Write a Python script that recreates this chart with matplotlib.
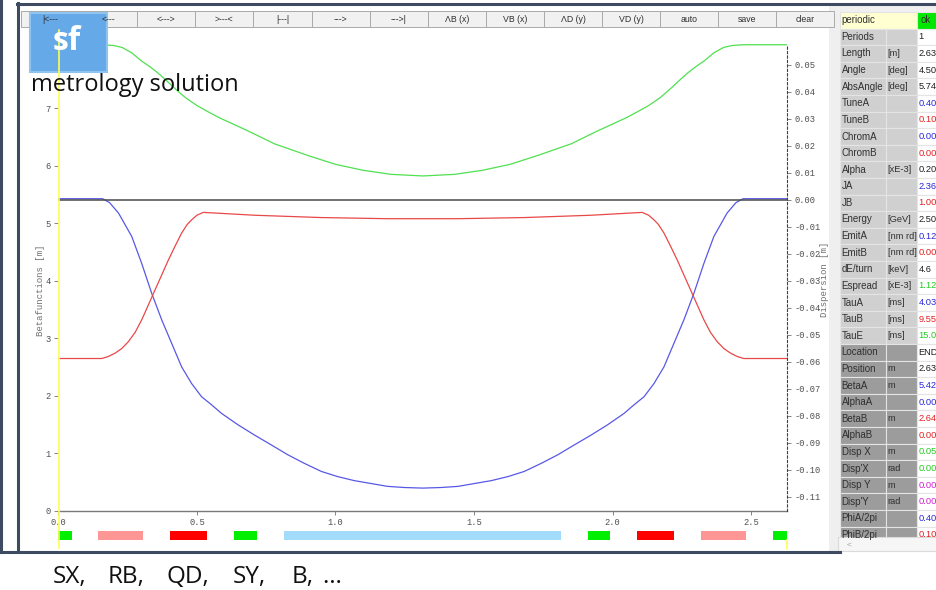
import matplotlib
matplotlib.use('Agg')
import matplotlib.pyplot as plt
from matplotlib.patches import Rectangle
from matplotlib import font_manager

W, H = 936, 590

# lattice functions along the cell, s in metres
s_beta_a = [0.000, 0.160, 0.185, 0.217, 0.265, 0.301, 0.337, 0.373, 0.409, 0.445,
            0.481, 0.517, 0.553, 0.589, 0.649, 0.709, 0.769, 0.828, 0.888, 0.949,
            1.008, 1.068, 1.128, 1.188, 1.250, 1.315, 1.380, 1.442, 1.502, 1.562,
            1.622, 1.681, 1.742, 1.802, 1.861, 1.921, 1.981, 2.041, 2.077, 2.113,
            2.149, 2.185, 2.221, 2.257, 2.293, 2.329, 2.365, 2.413, 2.445, 2.470, 2.630]
beta_a = [5.428, 5.428, 5.36, 5.18, 4.77, 4.30, 3.78, 3.32, 2.91, 2.50,
          2.21, 1.98, 1.84, 1.69, 1.49, 1.31, 1.14, 0.97, 0.82, 0.68,
          0.59, 0.52, 0.47, 0.42, 0.40, 0.39, 0.40, 0.42, 0.47, 0.52,
          0.59, 0.68, 0.82, 0.97, 1.14, 1.31, 1.49, 1.69, 1.84, 1.98,
          2.21, 2.50, 2.91, 3.32, 3.78, 4.30, 4.77, 5.18, 5.36, 5.428, 5.428]

s_beta_b = [0.000, 0.157, 0.180, 0.205, 0.229, 0.253, 0.277, 0.301, 0.325, 0.349,
            0.373, 0.397, 0.421, 0.445, 0.465, 0.481, 0.500, 0.523, 0.709, 0.949,
            1.188, 1.315, 1.442, 1.681, 1.921, 2.107, 2.130, 2.149, 2.165, 2.185,
            2.209, 2.233, 2.257, 2.281, 2.305, 2.329, 2.353, 2.377, 2.401, 2.425,
            2.450, 2.473, 2.630]
beta_b = [2.646, 2.646, 2.68, 2.74, 2.82, 2.94, 3.10, 3.32, 3.58, 3.84,
          4.10, 4.36, 4.60, 4.83, 4.98, 5.06, 5.14, 5.19, 5.14, 5.10,
          5.08, 5.08, 5.08, 5.10, 5.14, 5.19, 5.14, 5.06, 4.98, 4.83,
          4.60, 4.36, 4.10, 3.84, 3.58, 3.32, 3.10, 2.94, 2.82, 2.74,
          2.68, 2.646, 2.646]

s_disp = [0.000, 0.160, 0.200, 0.230, 0.265, 0.300, 0.330, 0.360, 0.385, 0.410,
          0.435, 0.460, 0.500, 0.540, 0.580, 0.680, 0.780, 0.900, 1.000, 1.100,
          1.200, 1.315, 1.430, 1.530, 1.630, 1.730, 1.850, 1.950, 2.050, 2.090,
          2.130, 2.170, 2.195, 2.220, 2.245, 2.270, 2.300, 2.330, 2.365, 2.400,
          2.430, 2.470, 2.630]
disp_x = [0.0575, 0.0575, 0.0572, 0.0565, 0.0545, 0.0515, 0.0494, 0.0470, 0.0447, 0.0423,
          0.0400, 0.0378, 0.0350, 0.0327, 0.0305, 0.0258, 0.0208, 0.0165, 0.0132, 0.0110,
          0.0095, 0.0089, 0.0095, 0.0110, 0.0132, 0.0165, 0.0208, 0.0258, 0.0305, 0.0327,
          0.0350, 0.0378, 0.0400, 0.0423, 0.0447, 0.0470, 0.0494, 0.0515, 0.0545, 0.0565,
          0.0572, 0.0575, 0.0575]

# magnets along the cell
elem_names = ['SX', 'RB', 'QD', 'SY', 'B', 'SY', 'QD', 'RB', 'SX']
elem_start = [0.000, 0.145, 0.404, 0.633, 0.813, 1.910, 2.088, 2.318, 2.578]
elem_end = [0.048, 0.307, 0.536, 0.716, 1.812, 1.990, 2.220, 2.480, 2.630]
elem_colors = {'SX': '#00ee00', 'SY': '#00ee00', 'RB': '#ff9696',
               'QD': '#ff0000', 'B': '#a2dcfa'}

s_ticks = [0.0, 0.5, 1.0, 1.5, 2.0, 2.5]
beta_ticks = [0, 1, 2, 3, 4, 5, 6, 7]
disp_ticks = [0.05, 0.04, 0.03, 0.02, 0.01, 0.00, -0.01, -0.02, -0.03, -0.04,
              -0.05, -0.06, -0.07, -0.08, -0.09, -0.10, -0.11]

buttons = ['|<---', '<---', '<--->', '>---<', '|---|', '--->', '--->|',
           'ΛB (x)', 'VB (x)', 'ΛD (y)', 'VD (y)', 'auto', 'save', 'clear']

# caption under the window, one word per magnet family
caption_words = ['SX,', 'RB,', 'QD,', 'SY,', 'B,', '\u2026']
caption_x = [53, 108, 167, 233, 292, 322]

# summary panel: name, unit, value, value colour
tab_names = ['Periods', 'Length', 'Angle', 'AbsAngle', 'TuneA', 'TuneB', 'ChromA',
             'ChromB', 'Alpha', 'JA', 'JB', 'Energy', 'EmitA', 'EmitB', 'dE/turn',
             'Espread', 'TauA', 'TauB', 'TauE', 'Location', 'Position', 'BetaA',
             'AlphaA', 'BetaB', 'AlphaB', 'Disp X', "Disp'X", 'Disp Y', "Disp'Y",
             'PhiA/2pi', 'PhiB/2pi']
tab_units = ['', '[m]', '[deg]', '[deg]', '', '', '', '', '[xE-3]', '', '', '[GeV]',
             '[nm rd]', '[nm rd]', '[keV]', '[xE-3]', '[ms]', '[ms]', '[ms]', '', 'm',
             'm', '', 'm', '', 'm', 'rad', 'm', 'rad', '', '']
tab_values = ['1', '2.630', '4.500', '5.740', '0.400', '0.100', '0.000', '0.000',
              '0.201', '2.365', '1.000', '2.500', '0.121', '0.000', '4.6', '1.121',
              '4.037', '9.550', '15.06', 'END', '2.630', '5.428', '0.000', '2.646',
              '0.000', '0.057', '0.000', '0.000', '0.000', '0.400', '0.100']
tab_colors = ['k', 'k', 'k', 'k', 'b', 'r', 'b', 'r', 'k', 'b', 'r', 'k', 'b', 'r', 'k',
              'g', 'b', 'r', 'g', 'k', 'k', 'b', 'b', 'r', 'r', 'g', 'g', 'm', 'm',
              'b', 'r']
value_rgb = {'k': '#202020', 'b': '#2828d8', 'r': '#e02020', 'g': '#22cc22', 'm': '#d020d0'}

installed = {f.name for f in font_manager.fontManager.ttflist}
narrow = 'Liberation Sans Narrow' if 'Liberation Sans Narrow' in installed else 'Liberation Sans'
mono = 'Liberation Mono'

fig = plt.figure(figsize=(W / 100, H / 100), dpi=100)


def box(x0, y0, x1, y1):
    return [x0 / W, 1 - y1 / H, (x1 - x0) / W, (y1 - y0) / H]


# optics plot: betas on the left scale, dispersion on the right
ax = fig.add_axes(box(58.3, 28, 787.3, 510.5))
ax.plot(s_beta_a, beta_a, color='#5858e8', lw=0.9)
ax.plot(s_beta_b, beta_b, color='#e84848', lw=0.9)
ax.set_xlim(0, 2.63)
ax.set_ylim(0, 8.40)
ax.set_xticks(s_ticks)
ax.set_xticklabels([f'{v:.1f}' for v in s_ticks])
ax.set_yticks(beta_ticks)
ax.tick_params(axis='both', length=3, width=0.6, color='#707070', labelsize=6.3,
               labelcolor='#505050', pad=2.5)
for lab in ax.get_xticklabels() + ax.get_yticklabels():
    lab.set_family(mono)
for side in ['top', 'right', 'left']:
    ax.spines[side].set_visible(False)
ax.spines['bottom'].set_color('#7a7a7a')
ax.spines['bottom'].set_linewidth(1.0)
ax.set_ylabel('Betafunctions [m]', family=mono, fontsize=6.5, color='#707070')
ax.yaxis.set_label_coords(-0.018, 0.457)

ax2 = ax.twinx()
ax2.plot(s_disp, disp_x, color='#50e050', lw=0.9)
ax2.axhline(0, color='#4a4a4a', lw=1.1)
ax2.set_ylim(-0.1150, 0.0637)
ax2.set_yticks(disp_ticks)
ax2.set_yticklabels([f'{v:.2f}' if v > -0.005 else f'-{abs(v):.2f}' for v in disp_ticks])
ax2.tick_params(axis='y', length=3, width=0.6, color='#707070', labelsize=6.3,
                labelcolor='#505050', pad=2.5)
for lab in ax2.get_yticklabels():
    lab.set_family(mono)
for side in ['top', 'left', 'bottom']:
    ax2.spines[side].set_visible(False)
ax2.spines['right'].set_linestyle((0, (2, 2)))
ax2.spines['right'].set_color('#404040')
ax2.spines['right'].set_linewidth(0.8)
ax2.spines['right'].set_bounds(-0.1150, max(disp_x))
ax2.set_ylabel('Dispersion [m]', family=mono, fontsize=6.5, color='#707070', rotation=90)
ax2.yaxis.set_label_coords(1.045, 0.48)

# element strip under the plot
ax_el = fig.add_axes(box(58.3, 526, 787.3, 548))
ax_el.set_xlim(0, 2.63)
ax_el.set_ylim(0, 1)
ax_el.axis('off')
for name, a, b in zip(elem_names, elem_start, elem_end):
    ax_el.broken_barh([(a, b - a)], (0.364, 0.41), facecolors=elem_colors[name])

# window chrome, toolbar, logo and parameter table in pixel coordinates
ov = fig.add_axes([0, 0, 1, 1])
ov.set_xlim(0, W)
ov.set_ylim(H, 0)
ov.axis('off')
ov.set_zorder(10)

frame = '#3e4a62'
ov.plot([1, 1], [0, 552], color=frame, lw=2.2)
ov.plot([17.5, 17.5], [3, 552], color=frame, lw=2.2)
ov.plot([17, W], [3.5, 3.5], color=frame, lw=2.2)
ov.plot([0, 840], [551.5, 551.5], color=frame, lw=2.2)
ov.plot([58.6, 58.6], [30, 548], color='#ffff50', lw=1.2)
ov.plot([786.8, 786.8], [540, 549], color='#ffff50', lw=1.2)
ov.add_patch(Rectangle((829, 6), 9, 545, facecolor='#efefef', edgecolor='none'))

bx = 21
bw = 58.1
for i, lab in enumerate(buttons):
    ov.add_patch(Rectangle((bx + i * bw, 11), bw, 16, facecolor='#f1f1f1',
                           edgecolor='#a9a9a9', lw=0.7))
    ov.text(bx + i * bw + bw / 2, 19.5, lab, ha='center', va='center', fontsize=6.3,
            color='#303030', family=narrow)

ov.add_patch(Rectangle((30, 13), 77, 59, facecolor='#66a9e9', edgecolor='#8fc3f0', lw=1.5))
ov.text(67, 41, 'sf', ha='center', va='center', fontsize=23, color='white',
        weight='bold', family='Open Sans')
ov.text(31, 85, 'metrology solution', ha='left', va='center', fontsize=17,
        color='#111111', family='Open Sans')

# parameter table
tx0, tx1, tx2, tx3 = 839.5, 886, 917, 940
row_h = 16.6
ty = 12
fs_tab = 7
ov.add_patch(Rectangle((838, 6), 100, 545, facecolor='#f0f0f0', edgecolor='none'))
ov.add_patch(Rectangle((tx0, ty), tx2 - tx0, row_h, facecolor='#ffffd2',
                       edgecolor='#e4e4e4', lw=0.8))
ov.add_patch(Rectangle((tx2, ty), tx3 - tx2, row_h, facecolor='#00e800',
                       edgecolor='#e4e4e4', lw=0.8))
ov.text(tx0 + 2, ty + row_h / 2, 'periodic', va='center', fontsize=fs_tab,
        color='#303030', family=narrow)
ov.text(tx2 + 4, ty + row_h / 2, 'ok', va='center', fontsize=fs_tab,
        color='#303030', family=narrow)
for i, (nm, un, val, col) in enumerate(zip(tab_names, tab_units, tab_values, tab_colors)):
    y = ty + (i + 1) * row_h
    shade = '#d0d0d0' if i < 19 else '#9c9c9c'
    ov.add_patch(Rectangle((tx0, y), tx1 - tx0, row_h, facecolor=shade,
                           edgecolor='#e4e4e4', lw=0.8))
    ov.add_patch(Rectangle((tx1, y), tx2 - tx1, row_h, facecolor=shade,
                           edgecolor='#e4e4e4', lw=0.8))
    ov.add_patch(Rectangle((tx2, y), tx3 - tx2, row_h, facecolor='white',
                           edgecolor='#e4e4e4', lw=0.8))
    ov.text(tx0 + 2, y + row_h / 2, nm, va='center', fontsize=fs_tab, color='#303030',
            family=narrow)
    ov.text(tx1 + 1.5, y + row_h / 2, un, va='center', fontsize=fs_tab - 0.3,
            color='#303030', family=narrow)
    ov.text(tx2 + 1.5, y + row_h / 2, val, va='center', fontsize=fs_tab - 0.3,
            color=value_rgb[col], family=narrow)
ov.add_patch(Rectangle((838, 537), 100, 14, facecolor='#f6f6f6', edgecolor='#dadada', lw=0.8))
ov.text(847, 545, '<', va='center', fontsize=6, color='#a0a0a0', family=narrow)

for word, x in zip(caption_words, caption_x):
    ov.text(x, 577, word, ha='left', va='center', fontsize=17.5,
            color='#111111', family='Open Sans')

fig.savefig('out.png', dpi=100)
